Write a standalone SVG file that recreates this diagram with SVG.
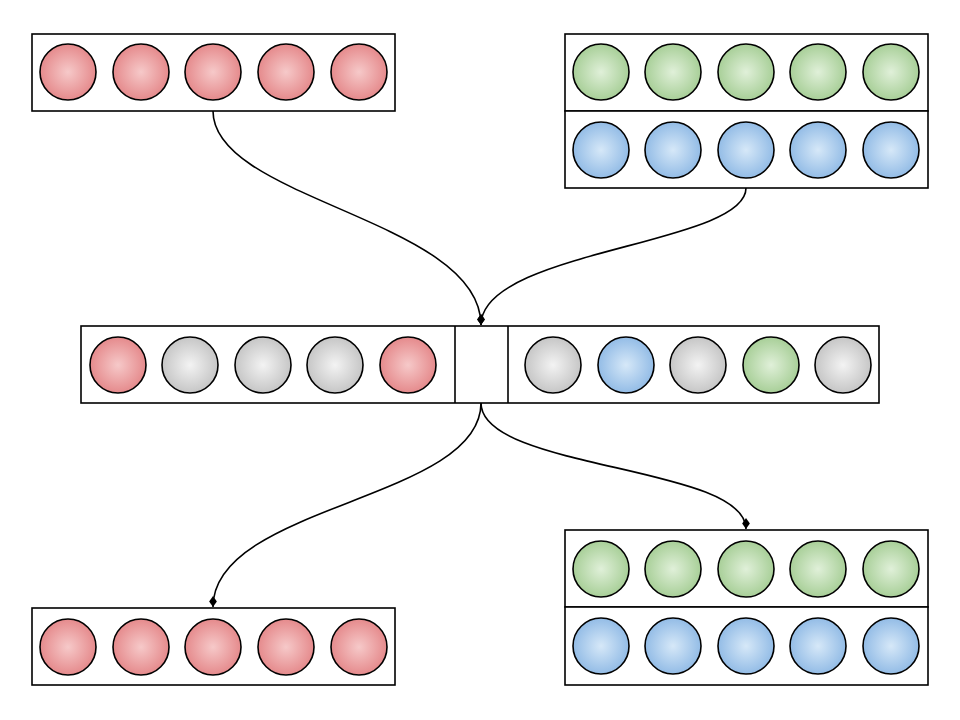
<svg xmlns="http://www.w3.org/2000/svg" width="960" height="720" viewBox="0 0 960 720">
<style>
.box{fill:#fff;stroke:#000;stroke-width:1.6}
.c{stroke:#000;stroke-width:1.6}
.r{fill:url(#gr)}.g{fill:url(#gg)}.b{fill:url(#gb)}.k{fill:url(#gk)}
.edge{fill:none;stroke:#000;stroke-width:1.6}
</style>
<defs>
<radialGradient id="gr"><stop offset="0" stop-color="#f6c9c9"/><stop offset="1" stop-color="#e58a8c"/></radialGradient>
<radialGradient id="gg"><stop offset="0" stop-color="#e0f0d9"/><stop offset="1" stop-color="#a8cf98"/></radialGradient>
<radialGradient id="gb"><stop offset="0" stop-color="#d6e8f8"/><stop offset="1" stop-color="#93bce6"/></radialGradient>
<radialGradient id="gk"><stop offset="0" stop-color="#f3f3f3"/><stop offset="1" stop-color="#c6c6c6"/></radialGradient>
<marker id="dia" viewBox="0 0 10 8" refX="10" refY="4" markerWidth="11" markerHeight="9" markerUnits="userSpaceOnUse" orient="auto">
<path d="M0,4 L5,0.5 L10,4 L5,7.5 Z" fill="#000"/>
</marker>
</defs>
<g id="connectors">
<path class="edge" d="M213,111 C213,200 481,220 481,325" marker-end="url(#dia)"/>
<path class="edge" d="M746,188 C746,245 481,250 481,325" marker-end="url(#dia)"/>
<path class="edge" d="M481,403 C481,500 213,505 213,607" marker-end="url(#dia)"/>
<path class="edge" d="M481,403 C481,470 746,465 746,529" marker-end="url(#dia)"/>
</g>
<g id="top-left">
<rect class="box" x="32" y="34" width="363" height="77"/>
<circle class="c r" cx="68" cy="72" r="28"/><circle class="c r" cx="141" cy="72" r="28"/><circle class="c r" cx="213" cy="72" r="28"/><circle class="c r" cx="286" cy="72" r="28"/><circle class="c r" cx="359" cy="72" r="28"/>
</g>
<g id="top-right">
<rect class="box" x="565" y="34" width="363" height="77"/>
<rect class="box" x="565" y="111" width="363" height="77"/>
<circle class="c g" cx="601" cy="72" r="28"/><circle class="c g" cx="673" cy="72" r="28"/><circle class="c g" cx="746" cy="72" r="28"/><circle class="c g" cx="818" cy="72" r="28"/><circle class="c g" cx="891" cy="72" r="28"/>
<circle class="c b" cx="601" cy="150" r="28"/><circle class="c b" cx="673" cy="150" r="28"/><circle class="c b" cx="746" cy="150" r="28"/><circle class="c b" cx="818" cy="150" r="28"/><circle class="c b" cx="891" cy="150" r="28"/>
</g>
<g id="middle">
<rect class="box" x="81" y="326" width="798" height="77"/>
<line class="c" x1="455" y1="326" x2="455" y2="403"/>
<line class="c" x1="508" y1="326" x2="508" y2="403"/>
<circle class="c r" cx="118" cy="365" r="28"/><circle class="c k" cx="190" cy="365" r="28"/><circle class="c k" cx="263" cy="365" r="28"/><circle class="c k" cx="335" cy="365" r="28"/><circle class="c r" cx="408" cy="365" r="28"/>
<circle class="c k" cx="553" cy="365" r="28"/><circle class="c b" cx="626" cy="365" r="28"/><circle class="c k" cx="698" cy="365" r="28"/><circle class="c g" cx="771" cy="365" r="28"/><circle class="c k" cx="843" cy="365" r="28"/>
</g>
<g id="bottom-left">
<rect class="box" x="32" y="608" width="363" height="77"/>
<circle class="c r" cx="68" cy="647" r="28"/><circle class="c r" cx="141" cy="647" r="28"/><circle class="c r" cx="213" cy="647" r="28"/><circle class="c r" cx="286" cy="647" r="28"/><circle class="c r" cx="359" cy="647" r="28"/>
</g>
<g id="bottom-right">
<rect class="box" x="565" y="530" width="363" height="77"/>
<rect class="box" x="565" y="607" width="363" height="78"/>
<circle class="c g" cx="601" cy="569" r="28"/><circle class="c g" cx="673" cy="569" r="28"/><circle class="c g" cx="746" cy="569" r="28"/><circle class="c g" cx="818" cy="569" r="28"/><circle class="c g" cx="891" cy="569" r="28"/>
<circle class="c b" cx="601" cy="646" r="28"/><circle class="c b" cx="673" cy="646" r="28"/><circle class="c b" cx="746" cy="646" r="28"/><circle class="c b" cx="818" cy="646" r="28"/><circle class="c b" cx="891" cy="646" r="28"/>
</g>
</svg>
